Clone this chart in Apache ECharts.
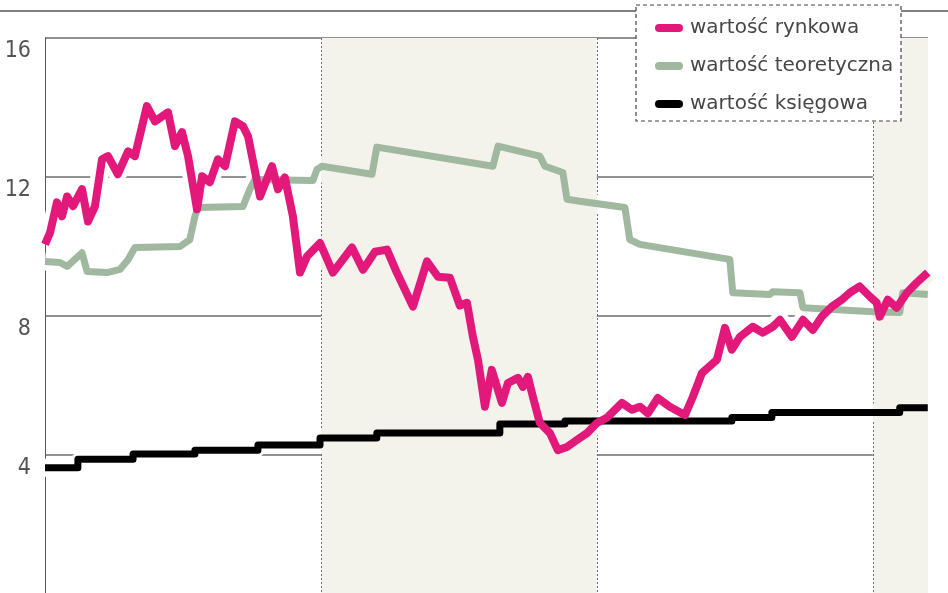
<!DOCTYPE html>
<html><head><meta charset="utf-8">
<script src="https://cdn.jsdelivr.net/npm/echarts@6/dist/echarts.min.js"></script>
<style>html,body{margin:0;padding:0;background:#fff;}#c{width:948px;height:593px;}</style>
</head><body><div id="c"></div>
<script>
// Series names (legend)
const seriesNames = ['wartość rynkowa', 'wartość teoretyczna', 'wartość księgowa'];

// x = months from start of the chart, y = value
const rynkowaMonths = [0,0.22,0.52,0.74,0.96,1.22,1.61,1.87,2.17,2.48,2.74,3.17,3.61,3.91,4.43,4.78,5.35,5.65,5.96,6.22,6.61,6.83,7.17,7.52,7.83,8.26,8.61,8.83,9.35,9.87,10.13,10.43,10.78,11.09,11.39,11.96,12.52,13.35,13.83,14.35,14.87,15.3,16.0,16.61,17.09,17.61,18.04,18.35,18.61,18.83,19.13,19.43,19.87,20.13,20.57,20.78,21.0,21.22,21.52,21.96,22.3,22.7,23.13,23.57,24.0,24.43,25.09,25.52,25.87,26.22,26.65,27.17,27.83,28.17,28.57,29.22,29.57,29.87,30.22,30.78,31.22,31.65,31.96,32.48,32.96,33.39,33.78,34.22,34.65,35.0,35.43,35.87,36.17,36.3,36.65,37.04,37.48,37.91,38.39];
const rynkowaValues = [10.06,10.4,11.27,10.87,11.44,11.16,11.65,10.72,11.15,12.51,12.6,12.08,12.74,12.6,14.04,13.6,13.86,12.89,13.29,12.6,11.07,12.02,11.85,12.51,12.31,13.6,13.46,13.17,11.44,12.31,11.65,11.99,10.87,9.25,9.71,10.1,9.25,9.97,9.33,9.85,9.91,9.25,8.27,9.57,9.13,9.1,8.3,8.38,7.4,6.74,5.39,6.45,5.5,6.07,6.22,5.96,6.25,5.67,4.92,4.63,4.14,4.23,4.43,4.63,4.92,5.07,5.5,5.3,5.39,5.2,5.64,5.39,5.15,5.67,6.36,6.74,7.66,7.03,7.4,7.69,7.52,7.69,7.89,7.4,7.89,7.6,7.98,8.27,8.47,8.67,8.85,8.56,8.38,7.98,8.47,8.24,8.67,8.96,9.25];

const teoretycznaMonths = [0,0.65,0.96,1.43,1.61,1.83,2.7,3.26,3.61,3.91,5.87,6.3,6.52,6.65,8.61,8.91,9.13,11.65,11.83,12.04,14.22,14.43,19.48,19.7,21.52,21.74,22.52,22.7,23.26,25.22,25.43,25.87,29.78,29.91,31.52,31.65,32.83,32.96,36.0,37.17,37.3,38.39];
const teoretycznaValues = [9.57,9.54,9.43,9.71,9.82,9.28,9.25,9.34,9.62,9.97,10.0,10.2,10.87,11.12,11.15,11.65,11.93,11.9,12.22,12.31,12.08,12.86,12.31,12.89,12.6,12.31,12.13,11.36,11.3,11.12,10.2,10.06,9.63,8.67,8.62,8.7,8.67,8.24,8.12,8.1,8.67,8.62];

const ksiegowaMonths = [0,1.43,3.83,6.52,9.26,11.96,14.43,19.78,22.61,29.87,31.61,37.17,38.39];
const ksiegowaValues = [3.63,3.88,4.03,4.14,4.29,4.49,4.63,4.89,4.98,5.08,5.22,5.36,5.36];

// axis settings
const yTicks = [0, 4, 8, 12, 16];
const xMax = 38.4;       // months shown
const xInterval = 12;    // one year

const colors = ['#e2197b', '#9fb89f', '#000000'];
const shade = '#f3f3ec';

const grid = { left: 45, top: 38, width: 883, height: 556, containLabel: false, outerBoundsMode: 'none' };

const zip = (xs, ys) => xs.map((x, i) => [x, ys[i]]);
const dataR = zip(rynkowaMonths, rynkowaValues);
const dataT = zip(teoretycznaMonths, teoretycznaValues);
const dataK = zip(ksiegowaMonths, ksiegowaValues);

// halo gradient following the alternating background bands
const stops = [];
const bands = Math.ceil(xMax / xInterval);
for (let b = 0; b < bands; b++) {
  const c = b % 2 === 0 ? '#ffffff' : shade;
  stops.push({ offset: Math.min(1, b * xInterval / xMax), color: c });
  stops.push({ offset: Math.min(1, (b + 1) * xInterval / xMax), color: c });
}
const halo = new echarts.graphic.LinearGradient(grid.left, 0, grid.left + grid.width, 0, stops, true);

const chart = echarts.init(document.getElementById('c'), null, { renderer: 'canvas' });

const capsule = 'path://M4,0 L24,0 A4,4 0 0 1 24,8 L4,8 A4,4 0 0 1 4,0 Z';

chart.setOption({
  animation: false,
  backgroundColor: '#ffffff',
  grid: grid,
  legend: {
    data: seriesNames.map(n => ({ name: n, icon: capsule })),
    orient: 'vertical',
    left: 650,
    top: 13,
    itemWidth: 28,
    itemHeight: 8,
    itemGap: 18,
    selectedMode: false,
    z: 6,
    textStyle: { fontFamily: 'DejaVu Sans', fontSize: 20, color: '#474747', lineHeight: 20, padding: [0, 0, 0, 2] }
  },
  xAxis: {
    type: 'value', min: 0, max: xMax, interval: xInterval,
    axisLine: { show: false }, axisTick: { show: false }, axisLabel: { show: false },
    splitLine: { show: true, lineStyle: { type: [2, 2], width: 1, color: ['rgba(0,0,0,0)', '#6e6e6e', '#6e6e6e', '#6e6e6e', 'rgba(0,0,0,0)'] } },
    splitArea: { show: true, areaStyle: { color: ['rgba(255,255,255,0)', shade] } }
  },
  yAxis: {
    type: 'value', min: yTicks[0], max: yTicks[yTicks.length - 1], interval: yTicks[1] - yTicks[0],
    axisLine: { show: true, lineStyle: { color: '#555', width: 1 } },
    axisTick: { show: false },
    axisLabel: {
      color: '#555', fontSize: 23, fontFamily: '"Liberation Sans Narrow", "DejaVu Sans Condensed", "DejaVu Sans", sans-serif',
      margin: 14, verticalAlign: 'top', lineHeight: 26
    },
    splitLine: { show: true, lineStyle: { color: '#6b6b6b', width: 1.5 } }
  },
  graphic: [
    { type: 'line', z: 1, shape: { x1: 0, y1: 11, x2: 948, y2: 11 }, style: { stroke: '#555', lineWidth: 1.5 } },
    { type: 'rect', z: 5, shape: { x: 636, y: 5, width: 265, height: 116 }, style: { fill: '#fff', stroke: '#444', lineWidth: 1.2, lineDash: [4, 3] } }
  ],
  series: [
    { name: 'halo-t', type: 'line', data: dataT, showSymbol: false, silent: true, lineStyle: { width: 18, color: halo } },
    { name: 'halo-k', type: 'line', data: dataK, step: 'end', showSymbol: false, silent: true, lineStyle: { width: 18, color: halo } },
    { name: 'halo-r', type: 'line', data: dataR, showSymbol: false, silent: true, lineStyle: { width: 18, color: halo } },
    { name: seriesNames[1], type: 'line', data: dataT, showSymbol: false, color: colors[1], lineStyle: { width: 7, color: colors[1], join: 'round' } },
    { name: seriesNames[2], type: 'line', data: dataK, step: 'end', showSymbol: false, color: colors[2], lineStyle: { width: 7, color: colors[2], join: 'round' } },
    { name: seriesNames[0], type: 'line', data: dataR, showSymbol: false, color: colors[0], lineStyle: { width: 8, color: colors[0], join: 'round' } }
  ]
});
</script>
</body></html>
